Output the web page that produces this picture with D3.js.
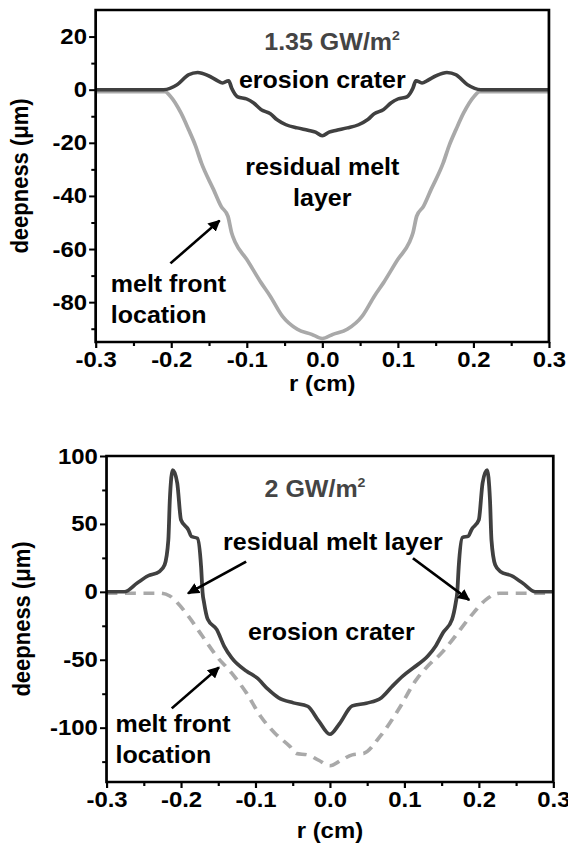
<!DOCTYPE html>
<html>
<head>
<meta charset="utf-8">
<script src="https://d3js.org/d3.v7.min.js"></script>
<style>
  body { margin: 0; background: #fff; }
  text { font-family: "Liberation Sans", Arial, Helvetica, sans-serif; font-weight: bold; }
  .axis path { display: none; }
  .axis line { stroke: #000; stroke-width: 2; }
  .axis text { font-size: 22px; fill: #000; }
</style>
</head>
<body>
<script type="text/javascript">

  // ---- top panel: 1.35 GW/m2 ----
  var rTop = [-0.3, -0.21, -0.192, -0.177, -0.165, -0.151, -0.139, -0.132, -0.124, -0.12, -0.112, -0.1, -0.091,
              -0.081, -0.069, -0.06, -0.048, -0.033, -0.019, -0.009, 0, 0.009, 0.019, 0.033, 0.048, 0.06, 0.069,
              0.081, 0.091, 0.1, 0.112, 0.12, 0.124, 0.132, 0.139, 0.151, 0.165, 0.177, 0.192, 0.21, 0.3];
  var craterTop = [0, 0, 1.9, 5.6, 6.5, 5.3, 3.4, 2.5, 3.4, 0.6, -2.7, -3.5, -5,
                   -7.5, -9, -11.3, -13.2, -14.4, -15.3, -16, -17.3, -16, -15.3, -14.4, -13.2, -11.3, -9,
                   -7.5, -5, -3.5, -2.7, 0.6, 3.4, 2.5, 3.4, 5.3, 6.5, 5.6, 1.9, 0, 0];
  var rTopMelt = [-0.3, -0.208, -0.201, -0.187, -0.177, -0.168, -0.16, -0.144, -0.134, -0.125, -0.12, -0.115,
                  -0.1, -0.081, -0.069, -0.053, -0.033, -0.014, 0, 0.014, 0.033, 0.053, 0.069, 0.081, 0.1,
                  0.115, 0.12, 0.125, 0.134, 0.144, 0.16, 0.168, 0.177, 0.187, 0.201, 0.208, 0.3];
  var meltTop = [-0.8, -0.8, -2.5, -8.8, -15, -21, -27.6, -37.6, -43.9, -47.6, -53.9, -57.6,
                 -63.9, -72.7, -77.7, -85.2, -90.2, -92.1, -93.7, -92.1, -90.2, -85.2, -77.7, -72.7, -63.9,
                 -57.6, -53.9, -47.6, -43.9, -37.6, -27.6, -21, -15, -8.8, -2.5, -0.8, -0.8];

  // ---- bottom panel: 2 GW/m2 ----
  var rBot = [-0.3, -0.276, -0.259, -0.244, -0.229, -0.222, -0.217, -0.215, -0.211, -0.205, -0.2, -0.19, -0.186,
              -0.178, -0.173, -0.171, -0.169, -0.164, -0.152, -0.142, -0.132, -0.112, -0.098, -0.083, -0.069,
              -0.049, -0.03, -0.015, 0, 0.013, 0.03, 0.049, 0.069, 0.083, 0.098, 0.112, 0.132, 0.142, 0.152,
              0.164, 0.169, 0.171, 0.173, 0.178, 0.186, 0.19, 0.2, 0.205, 0.211, 0.215, 0.217, 0.222, 0.229,
              0.244, 0.259, 0.276, 0.3];
  var craterBot = [0, 0, 6.4, 11.8, 14.9, 19.8, 38, 67.6, 89.7, 80, 53, 45.6, 40.7,
                   39.5, 18.6, -0.5, -8, -20.3, -27.7, -40, -48.5, -58.4, -63.3, -71.8, -78,
                   -81.7, -84.2, -95.1, -104.9, -97, -84, -82, -78, -70, -62, -56, -47, -40, -30,
                   -20.3, -8, -0.5, 18.6, 40, 41, 45.6, 53, 80, 89.7, 67.6, 38, 19.8, 14.9,
                   11.8, 6.4, 0, 0];
  var rBotMelt = [-0.3, -0.229, -0.215, -0.205, -0.19, -0.171, -0.152, -0.132, -0.112, -0.093, -0.074, -0.054,
                  -0.045, -0.03, -0.015, 0, 0.015, 0.03, 0.045, 0.068, 0.092, 0.116, 0.131, 0.15, 0.165,
                  0.189, 0.209, 0.228, 0.3];
  var meltBot = [-1, -1, -3, -8, -18, -32.8, -47.5, -59.8, -74.5, -91.7, -104, -113.7,
                 -119, -120, -124, -128, -124, -120, -119, -106, -86.8, -64.7, -54.9, -45, -35,
                 -18, -6, -1, -1];

  // tick values
  var xMajor = [-0.3, -0.2, -0.1, 0.0, 0.1, 0.2, 0.3];
  var xMinor = [-0.25, -0.15, -0.05, 0.05, 0.15, 0.25];
  var yTopMajor = [-80, -60, -40, -20, 0, 20];
  var yTopMinor = [-90, -70, -50, -30, -10, 10];
  var yBotMajor = [-100, -50, 0, 50, 100];
  var yBotMinor = [-125, -75, -25, 25, 75];

  var w = 568, h = 844;
  var sx = 1.087;   // the original figure is a bit stretched sideways
  var dark = "#404040", light = "#a9a9a9";

  // plain hyphen minus like the original
  function fmt(spec) {
    var f = d3.format(spec);
    return function(d) { return f(d).replace("\u2212", "-"); };
  }

  var svg = d3.select("body").append("svg")
      .attr("width", w)
      .attr("height", h);

  svg.append("defs").append("marker")
      .attr("id", "arrow")
      .attr("viewBox", "0 0 10 10")
      .attr("refX", 9).attr("refY", 5)
      .attr("markerWidth", 4.5).attr("markerHeight", 4.5)
      .attr("markerUnits", "strokeWidth")
      .attr("orient", "auto")
    .append("path")
      .attr("d", "M0,0 L10,5 L0,10 z")
      .attr("fill", "#000");

  var root = svg.append("g").attr("transform", "scale(" + sx + ",1)");

  function panel(opt) {
    var x = d3.scaleLinear().domain([-0.3, 0.3]).range([opt.left, opt.right]);
    var y = d3.scaleLinear().domain(opt.yDomain).range([opt.bottom, opt.top]);
    var g = root.append("g");

    // axes (major + minor ticks, outward)
    g.append("g").attr("class", "axis")
        .attr("transform", "translate(0," + opt.bottom + ")")
        .call(d3.axisBottom(x).tickValues(xMajor).tickSize(6).tickPadding(3).tickFormat(fmt(".1f")));
    g.append("g").attr("class", "axis")
        .attr("transform", "translate(0," + opt.bottom + ")")
        .call(d3.axisBottom(x).tickValues(xMinor).tickSize(4).tickFormat(""));
    g.append("g").attr("class", "axis")
        .attr("transform", "translate(" + opt.left + ",0)")
        .call(d3.axisLeft(y).tickValues(opt.yMajor).tickSize(6).tickPadding(2).tickFormat(fmt("d")));
    g.append("g").attr("class", "axis")
        .attr("transform", "translate(" + opt.left + ",0)")
        .call(d3.axisLeft(y).tickValues(opt.yMinor).tickSize(4).tickFormat(""));

    var line = d3.line()
        .x(function(d) { return x(d[0]); })
        .y(function(d) { return y(d[1]); })
        .curve(d3.curveMonotoneX);

    var clip = "clip" + opt.id;
    g.append("clipPath").attr("id", clip).append("rect")
        .attr("x", opt.left).attr("y", opt.top)
        .attr("width", opt.right - opt.left).attr("height", opt.bottom - opt.top);

    g.append("path")
        .datum(d3.zip(opt.rMelt, opt.melt))
        .attr("clip-path", "url(#" + clip + ")")
        .attr("fill", "none")
        .attr("stroke", light)
        .attr("stroke-width", 3.5)
        .attr("stroke-dasharray", opt.dashed ? "10,7" : null)
        .attr("d", line);

    g.append("path")
        .datum(d3.zip(opt.rCrater, opt.crater))
        .attr("clip-path", "url(#" + clip + ")")
        .attr("fill", "none")
        .attr("stroke", dark)
        .attr("stroke-width", 3.5)
        .attr("d", line);

    // frame
    g.append("rect")
        .attr("x", opt.left).attr("y", opt.top)
        .attr("width", opt.right - opt.left).attr("height", opt.bottom - opt.top)
        .attr("fill", "none").attr("stroke", "#000").attr("stroke-width", 2.5);

    // axis titles
    g.append("text")
        .attr("x", (opt.left + opt.right) / 2)
        .attr("y", opt.xTitleY)
        .attr("text-anchor", "middle")
        .attr("font-size", 22)
        .text("r (cm)");
    g.append("text")
        .attr("transform", "translate(" + opt.yTitleX + "," + (opt.top + opt.bottom) / 2 + ") rotate(-90)")
        .attr("text-anchor", "middle")
        .attr("font-size", 22)
        .text("deepness (\u03bcm)");

    // annotations (data coords)
    opt.labels.forEach(function(l) {
      var t = g.append("text")
          .attr("x", x(l.r)).attr("y", y(l.v))
          .attr("text-anchor", l.anchor || "middle")
          .attr("font-size", 23)
          .attr("fill", l.color || "#000");
      if (l.sup) {
        t.append("tspan").text(l.text);
        t.append("tspan").attr("font-size", 13).attr("dy", -10).text(l.sup);
      } else {
        t.text(l.text);
      }
    });
    opt.arrows.forEach(function(a) {
      g.append("line")
          .attr("x1", x(a[0])).attr("y1", y(a[1]))
          .attr("x2", x(a[2])).attr("y2", y(a[3]))
          .attr("stroke", "#000").attr("stroke-width", 2.5)
          .attr("marker-end", "url(#arrow)");
    });
  }

  panel({
    id: "top", left: 88, right: 505, top: 10, bottom: 342, yDomain: [-95, 30],
    yMajor: yTopMajor, yMinor: yTopMinor, xTitleY: 391, yTitleX: 26,
    rCrater: rTop, crater: craterTop, rMelt: rTopMelt, melt: meltTop, dashed: false,
    labels: [
      {r: 0.013, v: 15, text: "1.35 GW/m", sup: "2", color: "#444"},
      {r: 0, v: 0.6, text: "erosion crater"},
      {r: 0, v: -32, text: "residual melt"},
      {r: 0, v: -43.8, text: "layer"},
      {r: -0.28, v: -76, text: "melt front", anchor: "start"},
      {r: -0.28, v: -87.8, text: "location", anchor: "start"}
    ],
    arrows: [[-0.201, -65.4, -0.136, -49.3]]
  });

  panel({
    id: "bot", left: 98, right: 509, top: 456, bottom: 782, yDomain: [-140, 100],
    yMajor: yBotMajor, yMinor: yBotMinor, xTitleY: 838, yTitleX: 28,
    rCrater: rBot, crater: craterBot, rMelt: rBotMelt, melt: meltBot, dashed: true,
    labels: [
      {r: -0.02, v: 70, text: "2 GW/m", sup: "2", color: "#444"},
      {r: 0.004, v: 30.8, text: "residual melt layer"},
      {r: 0.002, v: -35.5, text: "erosion crater"},
      {r: -0.288, v: -103, text: "melt front", anchor: "start"},
      {r: -0.288, v: -126.3, text: "location", anchor: "start"}
    ],
    arrows: [[-0.1125, 22.2, -0.1905, -1.1], [0.1115, 24.7, 0.187, -6], [-0.2124, -85.8, -0.149, -55.6]]
  });

</script>
</body>
</html>
